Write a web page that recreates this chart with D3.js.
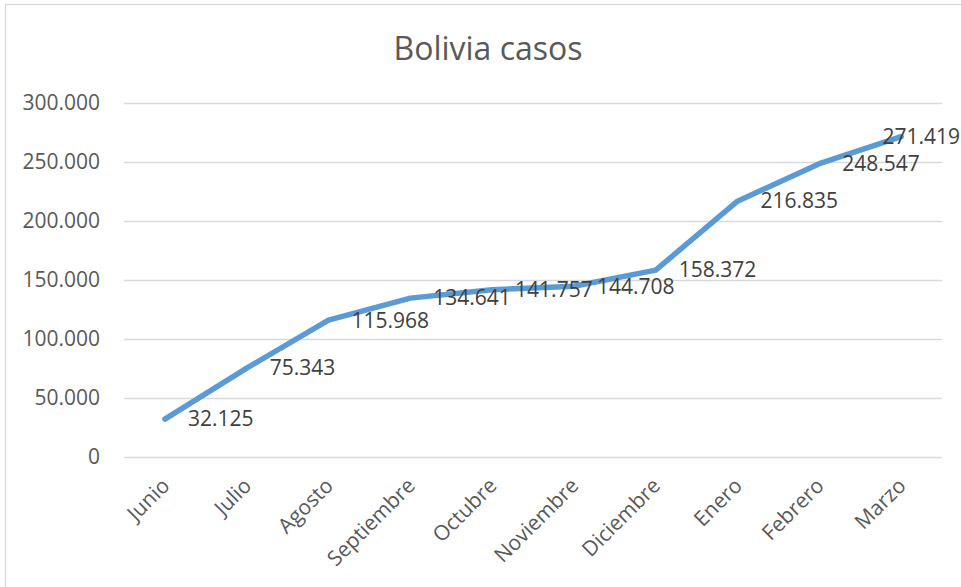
<!DOCTYPE html>
<html lang="es">
<head>
    <meta charset="UTF-8">
    <script src="https://d3js.org/d3.v7.min.js"></script>
    <style>
        body { margin: 0; background: #fff; }
        svg { display: block; font-family: "Open Sans", sans-serif; }
    </style>
</head>
<body>
    <svg width="961" height="587"></svg>
    <script>
        const meses = ["Junio", "Julio", "Agosto", "Septiembre", "Octubre", "Noviembre", "Diciembre", "Enero", "Febrero", "Marzo"];
        const casos = [32125, 75343, 115968, 134641, 141757, 144708, 158372, 216835, 248547, 271419];
        const ticks = [0, 50000, 100000, 150000, 200000, 250000, 300000];

        const svg = d3.select("svg"),
            W = +svg.attr("width"),
            margin = { top: 103, left: 124, right: 19, bottom: 130 },
            width = W - margin.left - margin.right,
            height = 587 - margin.top - margin.bottom;

        const fmt = d3.formatLocale({ decimal: ",", thousands: ".", grouping: [3] }).format(",d");

        // borde del gráfico
        svg.append("rect")
            .attr("x", 5.5).attr("y", 4.5)
            .attr("width", W).attr("height", 600)
            .attr("fill", "none").attr("stroke", "#d9d9d9").attr("stroke-width", 1.3);

        svg.append("text")
            .attr("x", 488).attr("y", 60)
            .attr("text-anchor", "middle")
            .attr("fill", "#595959")
            .attr("font-size", "32px")
            .text("Bolivia casos");

        const g = svg.append("g").attr("transform", `translate(${margin.left},${margin.top})`);

        const x = d3.scaleBand().domain(meses).range([0, width]);
        const y = d3.scaleLinear().domain([0, 300000]).range([height, 0]);

        // grilla y eje y
        const ya = g.append("g")
            .call(d3.axisLeft(y).tickValues(ticks).tickSize(-width).tickPadding(24).tickFormat(fmt));
        ya.select(".domain").remove();
        ya.selectAll("line").attr("stroke", "#d9d9d9").attr("stroke-width", 1.5);
        ya.selectAll("text").attr("fill", "#595959").attr("font-size", "21px").attr("font-family", "Open Sans");

        // eje x
        const xa = g.append("g")
            .attr("transform", `translate(0,${height})`)
            .call(d3.axisBottom(x).tickSize(0).tickPadding(0));
        xa.select(".domain").remove();
        xa.selectAll("text")
            .attr("fill", "#595959").attr("font-size", "21px").attr("font-family", "Open Sans")
            .attr("text-anchor", "end")
            .attr("dy", 0)
            .attr("transform", "translate(6,30) rotate(-45)");

        const line = d3.line()
            .x((d, i) => x(meses[i]) + x.bandwidth() / 2)
            .y(d => y(d));

        g.append("path")
            .datum(casos)
            .attr("d", line)
            .attr("fill", "none")
            .attr("stroke", "#5b9bd5")
            .attr("stroke-width", 5.5)
            .attr("stroke-linejoin", "round")
            .attr("stroke-linecap", "round");

        // etiquetas de datos
        g.selectAll(".label")
            .data(casos)
            .enter().append("text")
            .attr("class", "label")
            .attr("y", d => y(d))
            .attr("dy", "0.35em")
            .attr("fill", "#404040")
            .attr("font-size", "21px")
            .text(d => fmt(d))
            .attr("x", function (d, i) {
                const px = x(meses[i]) + x.bandwidth() / 2 + 23;
                const w = this.getComputedTextLength();
                return Math.min(px, W - 1 - margin.left - w);
            });
    </script>
</body>
</html>
